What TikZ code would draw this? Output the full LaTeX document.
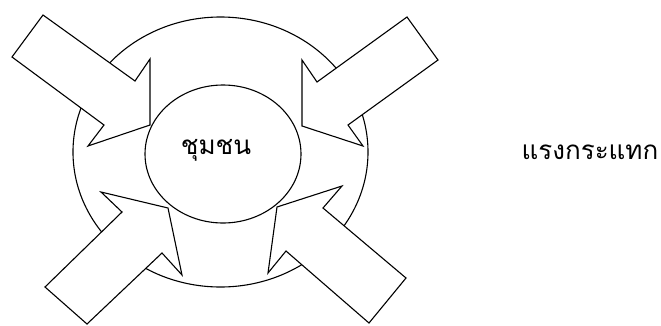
\documentclass[tikz,border=0pt]{standalone}
\usepackage{fontspec}
\usetikzlibrary{shapes.geometric}
\newfontfamily\thaifont[Script=Thai]{Loma}
\begin{document}
\begin{tikzpicture}[x=1pt,y=-1pt,line width=1.1pt,
  bigarrow/.style={draw=black,fill=white,line join=miter},
  ring/.style={draw=black},
  lbl/.style={font=\thaifont\fontsize{26}{30}\selectfont,inner sep=0pt}]
\useasboundingbox (0,0) rectangle (661,325);
\fill[white] (0,0) rectangle (661,325);
\node[ring,ellipse,minimum width=295pt,minimum height=270pt,inner sep=0pt] (outer) at (220.5,152) {};
\draw[bigarrow] (43,15) -- (135,81) -- (150,59) -- (150,125) -- (88,146) -- (104,125) -- (12,57) -- cycle;
\draw[bigarrow] (407,17) -- (438,60) -- (348,125) -- (363,146) -- (302,126) -- (302,60) -- (317,82) -- cycle;
\draw[bigarrow] (101,192) -- (168,208) -- (182,275) -- (162,253) -- (87,324) -- (45,287) -- (122,212) -- cycle;
\draw[bigarrow] (277,207) -- (342,186) -- (323,208) -- (406,278) -- (369,323) -- (286,251) -- (268,273) -- cycle;
\node[ring,fill=white,ellipse,minimum width=156pt,minimum height=138pt,inner sep=0pt] (inner) at (223,154) {};
\node[lbl] (community) at (216,150) {ชุมชน};
\node[lbl] (impact) at (590,152) {แรงกระแทก};
\end{tikzpicture}
\end{document}
